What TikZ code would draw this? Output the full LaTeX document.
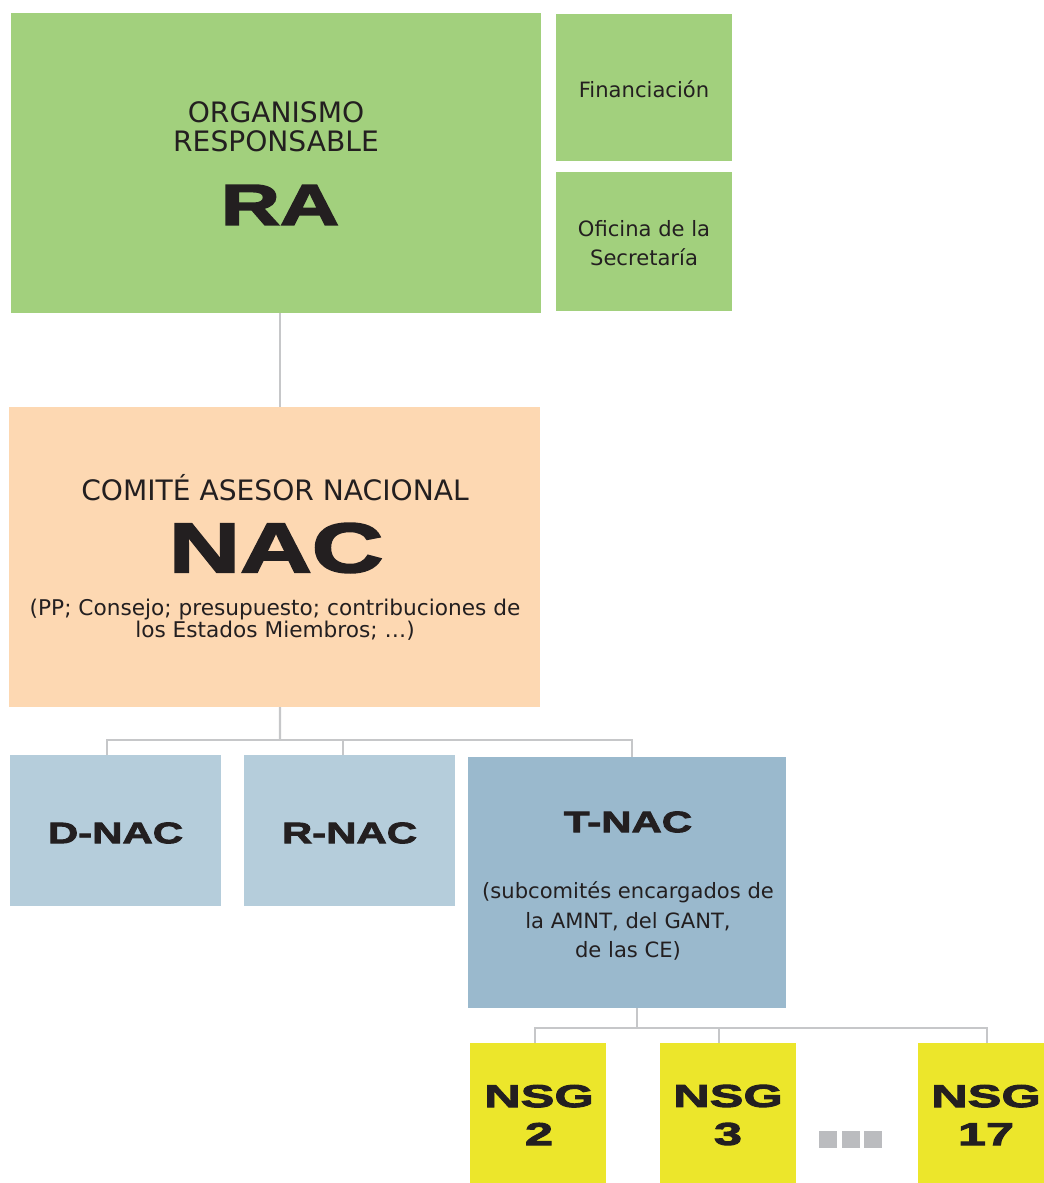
\documentclass[tikz,border=0pt]{standalone}
\usepackage{fontspec}
\setmainfont{DejaVu Sans}
\newfontfamily\acrfont[FakeStretch=1.42,FakeBold=3]{Liberation Sans Bold}
\newfontfamily\nsgfont[FakeStretch=1.6,FakeBold=3]{Liberation Sans Bold}
\definecolor{ragreen}{HTML}{A2D07D}
\definecolor{nacpeach}{HTML}{FDD8B2}
\definecolor{subblue}{HTML}{B5CDDB}
\definecolor{techblue}{HTML}{9AB9CD}
\definecolor{nsgyellow}{HTML}{ECE62B}
\definecolor{linegrey}{HTML}{C6C7C9}
\definecolor{dotgrey}{HTML}{BBBCBF}
\definecolor{ink}{HTML}{231F20}
\newcommand\pxu{0.025cm}

\begin{document}
\begin{tikzpicture}[x=0.025cm,y=-0.025cm,
    box/.style={inner sep=0,outer sep=0},
    link/.style={draw=linegrey,line width=1.6pt},
    title/.style={text=ink,align=center,font=\fontsize{20}{20.6}\selectfont},
    small/.style={text=ink,align=center,font=\fontsize{15}{20.8}\selectfont},
    acr/.style={text=ink,align=center,inner sep=0,font=\acrfont\fontsize{#1}{#1}\selectfont},
    nsg/.style={text=ink,align=center,inner sep=0,font=\nsgfont\fontsize{22.5}{27}\selectfont}]
    \useasboundingbox (0,0) rectangle (1044,1183);

    % top level
    \node [box,fill=ragreen,minimum width=530*\pxu,minimum height=300*\pxu] (ra) at (276,163) {};
    \node [title] (raname) at (276,127) {ORGANISMO\\RESPONSABLE};
    \node [acr=41] (ralbl) at (280,205) {RA};
    \node [box,fill=ragreen,minimum width=176*\pxu,minimum height=147*\pxu] (fin) at (644,87.5) {};
    \node [small] (finlbl) at (644,89) {Financiación};
    \node [box,fill=ragreen,minimum width=176*\pxu,minimum height=139*\pxu] (ofi) at (644,241.5) {};
    \node [small] (ofilbl) at (644,243) {Oficina de la\\Secretaría};

    % national committee
    \node [box,fill=nacpeach,minimum width=531*\pxu,minimum height=300*\pxu] (nac) at (274.5,557) {};
    \node [title] (nacname) at (275,488) {COMITÉ ASESOR NACIONAL};
    \node [acr=49.6] (naclbl) at (276,548) {NAC};
    \node [small,font=\fontsize{15.4}{15.6}\selectfont] (nacsub) at (275,620) {(PP; Consejo; presupuesto; contribuciones de\\los Estados Miembros; …)};

    % sub-committees
    \node [box,fill=subblue,minimum width=211*\pxu,minimum height=151*\pxu] (dnac) at (115.5,830.5) {};
    \node [acr=21] (dnaclbl) at (115.5,833) {D-NAC};
    \node [box,fill=subblue,minimum width=211*\pxu,minimum height=151*\pxu] (rnac) at (349.5,830.5) {};
    \node [acr=21] (rnaclbl) at (349.5,833) {R-NAC};
    \node [box,fill=techblue,minimum width=318*\pxu,minimum height=251*\pxu] (tnac) at (627,882.5) {};
    \node [acr=21] (tnaclbl) at (628,822) {T-NAC};
    \node [small] (tnacsub) at (628,921) {(subcomités encargados de\\la AMNT, del GANT,\\de las CE)};

    % study groups
    \node [box,fill=nsgyellow,minimum width=136*\pxu,minimum height=140*\pxu] (nsga) at (538,1113) {};
    \node [nsg] (nsgalbl) at (539,1115) {NSG\\2};
    \node [box,fill=nsgyellow,minimum width=136*\pxu,minimum height=140*\pxu] (nsgb) at (728,1113) {};
    \node [nsg] (nsgblbl) at (728,1115) {NSG\\3};
    \node [box,fill=nsgyellow,minimum width=126*\pxu,minimum height=140*\pxu] (nsgc) at (981,1113) {};
    \node [nsg] (nsgclbl) at (986,1115) {NSG\\17};
    \foreach \x in {819,841.5,864}
        \fill [dotgrey] (\x,1131) rectangle ++(18,17);

    % connectors
    \coordinate (barone) at (280,740);
    \coordinate (bartwo) at (637,1028);
    \draw [link] ([xshift=4*\pxu]ra.south) -- ([xshift=4*\pxu]ra.south |- nac.north);
    \draw [link] ([xshift=5.5*\pxu]nac.south) -- (barone);
    \draw [link] ([xshift=-8.5*\pxu]dnac.north) |- ([xshift=5*\pxu]tnac.north |- barone) -- ([xshift=5*\pxu]tnac.north);
    \draw [link] ([xshift=-6.5*\pxu]rnac.north) -- ([xshift=-6.5*\pxu]rnac.north |- barone);
    \draw [link] ([xshift=10*\pxu]tnac.south) -- (bartwo);
    \draw [link] ([xshift=-3*\pxu]nsga.north) |- ([xshift=6*\pxu]nsgc.north |- bartwo) -- ([xshift=6*\pxu]nsgc.north);
    \draw [link] ([xshift=-9*\pxu]nsgb.north) -- ([xshift=-9*\pxu]nsgb.north |- bartwo);
\end{tikzpicture}
\end{document}
